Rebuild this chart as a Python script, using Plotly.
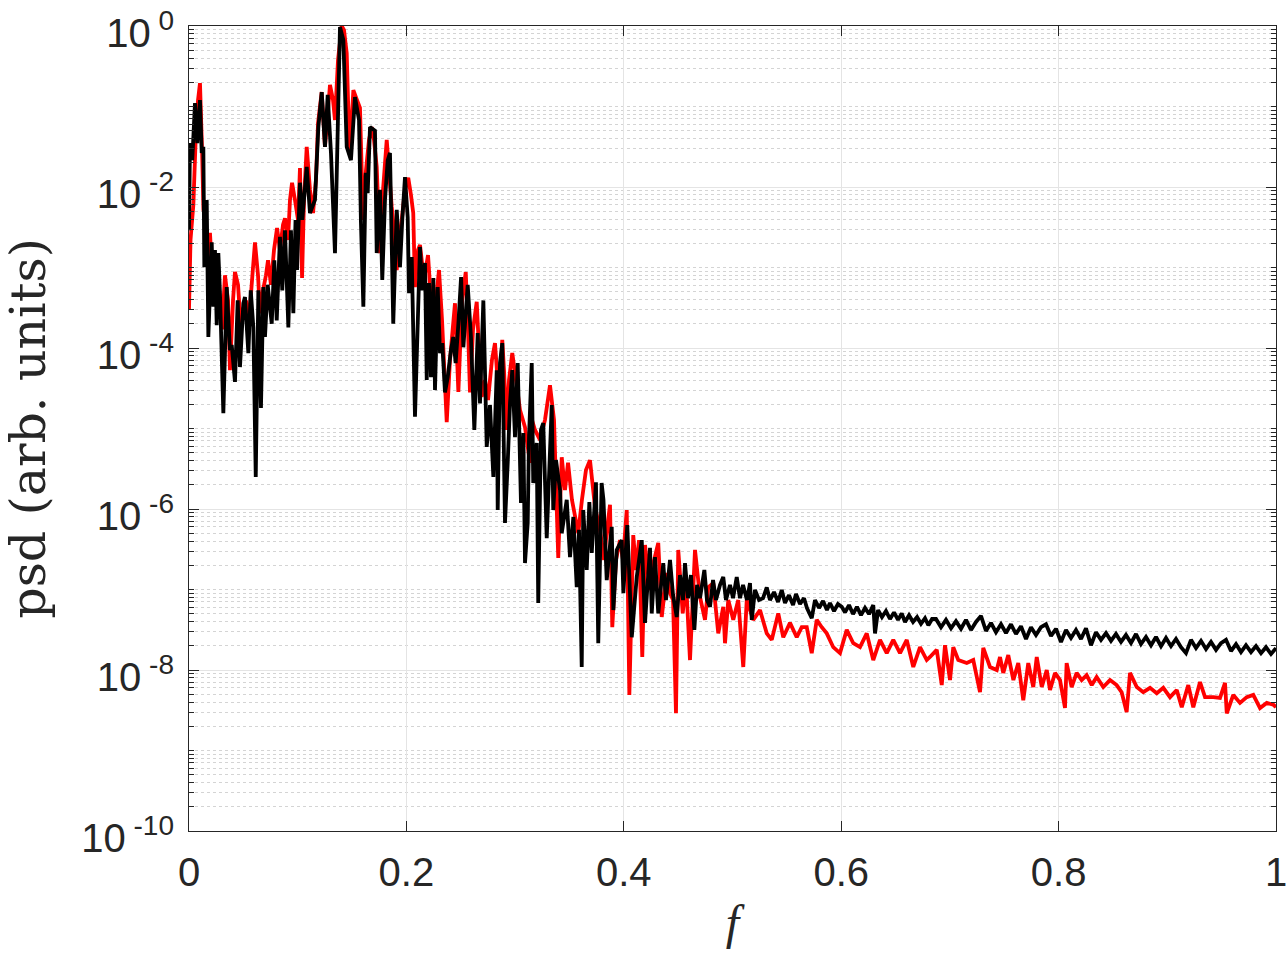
import plotly.graph_objects as go

# ---- data (f, psd) ----
f_red = [0.0000, 0.0014, 0.0040, 0.0064, 0.0083, 0.0101, 0.0120, 0.0133, 0.0147, 0.0175,
         0.0193, 0.0221, 0.0248, 0.0276, 0.0304, 0.0331, 0.0359, 0.0377, 0.0405, 0.0423,
         0.0451, 0.0478, 0.0497, 0.0524, 0.0552, 0.0580, 0.0607, 0.0635, 0.0653, 0.0681,
         0.0708, 0.0727, 0.0754, 0.0782, 0.0810, 0.0837, 0.0865, 0.0883, 0.0911, 0.0929,
         0.0948, 0.0975, 0.1003, 0.1021, 0.1040, 0.1058, 0.1083, 0.1113, 0.1141, 0.1168,
         0.1187, 0.1221, 0.1251, 0.1279, 0.1297, 0.1325, 0.1343, 0.1371, 0.1405, 0.1426,
         0.1451, 0.1463, 0.1481, 0.1512, 0.1546, 0.1573, 0.1601, 0.1628, 0.1656, 0.1681,
         0.1702, 0.1727, 0.1757, 0.1785, 0.1819, 0.1840, 0.1865, 0.1886, 0.1911, 0.1932,
         0.1957, 0.1987, 0.2017, 0.2042, 0.2063, 0.2079, 0.2107, 0.2125, 0.2162, 0.2199,
         0.2226, 0.2245, 0.2272, 0.2300, 0.2328, 0.2371, 0.2401, 0.2447, 0.2478, 0.2512,
         0.2546, 0.2567, 0.2585, 0.2613, 0.2647, 0.2668, 0.2693, 0.2723, 0.2751, 0.2787,
         0.2815, 0.2852, 0.2882, 0.2898, 0.2923, 0.2944, 0.2974, 0.3008, 0.3045, 0.3091,
         0.3137, 0.3155, 0.3183, 0.3229, 0.3275, 0.3321, 0.3358, 0.3397, 0.3429, 0.3459,
         0.3487, 0.3523, 0.3581, 0.3615, 0.3652, 0.3689, 0.3735, 0.3781, 0.3818, 0.3845,
         0.3873, 0.3894, 0.3928, 0.3965, 0.3993, 0.4027, 0.4051, 0.4087, 0.4112, 0.4140,
         0.4170, 0.4195, 0.4241, 0.4272, 0.4317, 0.4349, 0.4395, 0.4425, 0.4453, 0.4480,
         0.4501, 0.4542, 0.4572, 0.4609, 0.4655, 0.4701, 0.4747, 0.4777, 0.4823, 0.4869,
         0.4915, 0.4931, 0.4961, 0.5007, 0.5053, 0.5099, 0.5131, 0.5191, 0.5253, 0.5315,
         0.5361, 0.5421, 0.5467, 0.5529, 0.5591, 0.5637, 0.5683, 0.5729, 0.5775, 0.5821,
         0.5867, 0.5927, 0.5989, 0.6051, 0.6111, 0.6173, 0.6235, 0.6295, 0.6357, 0.6419,
         0.6479, 0.6541, 0.6603, 0.6663, 0.6725, 0.6787, 0.6817, 0.6879, 0.6925, 0.6955,
         0.7001, 0.7031, 0.7077, 0.7155, 0.7215, 0.7277, 0.7307, 0.7369, 0.7431, 0.7461,
         0.7491, 0.7537, 0.7584, 0.7629, 0.7675, 0.7721, 0.7767, 0.7799, 0.7845, 0.7891,
         0.7921, 0.7967, 0.8013, 0.8059, 0.8074, 0.8120, 0.8166, 0.8212, 0.8258, 0.8305,
         0.8350, 0.8411, 0.8473, 0.8534, 0.8580, 0.8626, 0.8657, 0.8719, 0.8779, 0.8841,
         0.8903, 0.8963, 0.9025, 0.9087, 0.9133, 0.9193, 0.9239, 0.9301, 0.9347, 0.9423,
         0.9485, 0.9531, 0.9547, 0.9607, 0.9669, 0.9731, 0.9791, 0.9853, 0.9915, 0.9976,
         1.0000]
psd_red = [3.0e-4, 2.2e-3, 6.0e-3, 5.0e-2, 1.2e-1, 1.95e-1, 2.9e-2, 5.2e-3, 4.2e-3, 1.65e-3,
           2.7e-3, 5.2e-4, 1.23e-3, 3.9e-4, 1.7e-4, 8.0e-4, 3.9e-4, 5.3e-5, 3.9e-4, 8.8e-4,
           6.1e-4, 1.7e-4, 3.0e-4, 3.9e-4, 2.2e-4, 7.0e-4, 2.05e-3, 8.0e-4, 2.7e-4, 5.2e-4,
           8.0e-4, 1.23e-3, 6.1e-4, 1.65e-3, 3.1e-3, 1.65e-3, 3.4e-3, 4.1e-3, 2.2e-3, 6.9e-3,
           1.13e-2, 6.9e-3, 3.9e-3, 1.72e-2, 7.4e-4, 6.9e-3, 3.15e-2, 9.2e-3, 4.75e-3, 1.22e-2,
           6.2e-2, 1.51e-1, 3.15e-2, 9.0e-2, 1.85e-1, 1.2e-1, 6.8e-2, 3.8e-1, 1.0, 8.9e-1,
           4.6e-1, 1.2e-1, 2.65e-2, 1.6e-1, 1.2e-1, 9.6e-2, 3.9e-3, 1.6e-2, 3.85e-2, 5.55e-2,
           3.85e-2, 1.78e-2, 1.51e-3, 9.2e-3, 3.85e-2, 1.6e-2, 5.65e-3, 2.9e-3, 9.3e-4, 2.2e-3,
           3.9e-3, 9.2e-3, 1.3e-2, 7.95e-3, 4.75e-3, 5.7e-4, 1.65e-3, 1.9e-3, 7.0e-4, 1.43e-3,
           3.9e-4, 1.02e-4, 3.9e-4, 9.3e-4, 2.2e-4, 1.2e-5, 7.1e-5, 3.6e-4, 2.84e-5, 3.9e-4,
           8.8e-4, 1.7e-4, 2.8e-5, 1.7e-4, 3.75e-4, 9.4e-5, 2.47e-5, 4.0e-5, 2.26e-5, 7.1e-5,
           1.15e-4, 2.26e-5, 1.26e-4, 5.3e-5, 9.6e-6, 4.0e-5, 8.65e-5, 4.0e-5, 1.7e-5, 1.04e-5,
           3.75e-6, 1.28e-5, 9.6e-6, 7.2e-6, 1.28e-5, 3.45e-5, 1.28e-5, 2.47e-7, 4.4e-6, 1.72e-6,
           3.75e-6, 1.3e-6, 5.0e-7, 1.3e-6, 3.05e-6, 4.05e-6, 1.06e-6, 5.5e-7, 2.33e-7, 5.5e-7,
           1.13e-6, 3.4e-8, 2.33e-7, 4.1e-7, 2.33e-7, 9.7e-7, 4.9e-9, 4.75e-7, 1.75e-7, 4.1e-7,
           1.45e-8, 3.57e-7, 9.85e-8, 2.13e-7, 3.8e-7, 4.55e-8, 1.6e-7, 9.0e-8, 7.4e-8, 2.9e-9,
           3.1e-7, 5.05e-8, 1.31e-7, 1.33e-8, 3.1e-7, 8.1e-8, 4.2e-8, 1.07e-7, 1.2e-7, 2.85e-8,
           6.1e-8, 2.15e-8, 7.4e-8, 4.2e-8, 7.4e-8, 1.09e-8, 7.4e-8, 4.2e-8, 5.55e-8, 2.85e-8,
           2.37e-8, 5.05e-8, 2.55e-8, 3.85e-8, 2.55e-8, 3.4e-8, 3.4e-8, 1.62e-8, 4.2e-8, 3.4e-8,
           2.85e-8, 1.92e-8, 1.62e-8, 3.15e-8, 2.15e-8, 1.92e-8, 2.85e-8, 1.33e-8, 2.37e-8, 1.62e-8,
           2.37e-8, 1.62e-8, 2.37e-8, 1.09e-8, 1.92e-8, 1.33e-8, 1.45e-8, 1.78e-8, 6.5e-9, 2.03e-8,
           7.5e-9, 1.92e-8, 1.33e-8, 1.22e-8, 1.33e-8, 5.3e-9, 1.88e-8, 1.09e-8, 1.0e-8, 1.45e-8,
           9.2e-9, 1.53e-8, 7.5e-9, 1.22e-8, 4.2e-9, 1.22e-8, 6.15e-9, 1.45e-8, 6.15e-9, 1.0e-8,
           5.65e-9, 9.2e-9, 7.5e-9, 3.37e-9, 1.22e-8, 6.15e-9, 9.2e-9, 7.5e-9, 8.65e-9, 6.5e-9,
           8.2e-9, 6.15e-9, 7.5e-9, 6.5e-9, 5.3e-9, 3.0e-9, 9.2e-9, 6.15e-9, 5.3e-9, 6.0e-9,
           5.15e-9, 6.0e-9, 4.6e-9, 5.65e-9, 3.45e-9, 6.5e-9, 3.45e-9, 7.1e-9, 4.6e-9, 4.6e-9,
           4.5e-9, 6.9e-9, 2.9e-9, 4.9e-9, 3.9e-9, 4.6e-9, 4.9e-9, 3.37e-9, 3.9e-9, 3.7e-9,
           3.45e-9]

f_black = [0.0000, 0.0009, 0.0030, 0.0055, 0.0076, 0.0101, 0.0117, 0.0132, 0.0141, 0.0163,
           0.0178, 0.0209, 0.0224, 0.0239, 0.0255, 0.0270, 0.0285, 0.0316, 0.0347, 0.0377,
           0.0393, 0.0423, 0.0448, 0.0469, 0.0500, 0.0515, 0.0546, 0.0568, 0.0592, 0.0614,
           0.0638, 0.0662, 0.0684, 0.0699, 0.0724, 0.0761, 0.0785, 0.0807, 0.0837, 0.0858,
           0.0883, 0.0914, 0.0938, 0.0960, 0.0980, 0.0994, 0.1021, 0.1042, 0.1083, 0.1113,
           0.1159, 0.1190, 0.1221, 0.1251, 0.1276, 0.1306, 0.1343, 0.1368, 0.1389, 0.1420,
           0.1451, 0.1490, 0.1527, 0.1564, 0.1582, 0.1604, 0.1626, 0.1644, 0.1665, 0.1711,
           0.1727, 0.1757, 0.1778, 0.1803, 0.1828, 0.1849, 0.1879, 0.1911, 0.1941, 0.1962,
           0.1987, 0.2012, 0.2024, 0.2049, 0.2079, 0.2125, 0.2146, 0.2171, 0.2187, 0.2208,
           0.2226, 0.2248, 0.2263, 0.2288, 0.2309, 0.2330, 0.2355, 0.2380, 0.2410, 0.2431,
           0.2453, 0.2478, 0.2503, 0.2524, 0.2564, 0.2594, 0.2625, 0.2656, 0.2677, 0.2708,
           0.2739, 0.2769, 0.2800, 0.2831, 0.2840, 0.2861, 0.2882, 0.2907, 0.2932, 0.2953,
           0.2974, 0.2999, 0.3024, 0.3054, 0.3076, 0.3091, 0.3116, 0.3128, 0.3153, 0.3167,
           0.3199, 0.3213, 0.3238, 0.3259, 0.3291, 0.3337, 0.3351, 0.3376, 0.3413, 0.3429,
           0.3475, 0.3505, 0.3536, 0.3567, 0.3588, 0.3613, 0.3627, 0.3659, 0.3683, 0.3705,
           0.3744, 0.3765, 0.3796, 0.3813, 0.3843, 0.3889, 0.3904, 0.3935, 0.3981, 0.3996,
           0.4032, 0.4073, 0.4119, 0.4165, 0.4195, 0.4241, 0.4257, 0.4287, 0.4317, 0.4363,
           0.4388, 0.4425, 0.4453, 0.4487, 0.4517, 0.4545, 0.4563, 0.4591, 0.4618, 0.4649,
           0.4674, 0.4701, 0.4741, 0.4765, 0.4793, 0.4821, 0.4848, 0.4885, 0.4915, 0.4940,
           0.4977, 0.5005, 0.5039, 0.5069, 0.5097, 0.5133, 0.5161, 0.5177, 0.5207, 0.5244,
           0.5281, 0.5315, 0.5345, 0.5382, 0.5419, 0.5453, 0.5483, 0.5520, 0.5557, 0.5584,
           0.5621, 0.5658, 0.5685, 0.5729, 0.5759, 0.5796, 0.5833, 0.5869, 0.5897, 0.5934,
           0.5970, 0.6005, 0.6035, 0.6072, 0.6109, 0.6145, 0.6182, 0.6219, 0.6256, 0.6295,
           0.6311, 0.6339, 0.6375, 0.6412, 0.6449, 0.6486, 0.6523, 0.6557, 0.6587, 0.6624,
           0.6661, 0.6698, 0.6734, 0.6771, 0.6802, 0.6836, 0.6872, 0.6918, 0.6964, 0.7010,
           0.7056, 0.7102, 0.7148, 0.7194, 0.7240, 0.7286, 0.7332, 0.7378, 0.7424, 0.7470,
           0.7516, 0.7562, 0.7608, 0.7654, 0.7700, 0.7746, 0.7792, 0.7838, 0.7884, 0.7930,
           0.7976, 0.8022, 0.8068, 0.8114, 0.8160, 0.8206, 0.8252, 0.8298, 0.8344, 0.8390,
           0.8436, 0.8482, 0.8528, 0.8574, 0.8620, 0.8666, 0.8712, 0.8758, 0.8804, 0.8850,
           0.8896, 0.8942, 0.8988, 0.9034, 0.9080, 0.9126, 0.9172, 0.9218, 0.9264, 0.9310,
           0.9356, 0.9402, 0.9448, 0.9494, 0.9540, 0.9586, 0.9632, 0.9678, 0.9724, 0.9770,
           0.9816, 0.9862, 0.9908, 0.9954, 1.0000]
psd_black = [2.9e-3, 3.5e-2, 2.15e-2, 1.1e-1, 3.5e-2, 1.2e-1, 2.65e-2, 3.15e-2, 1.01e-3, 6.9e-3,
             1.37e-4, 2.05e-3, 3.25e-4, 1.65e-3, 1.92e-4, 1.51e-3, 4.8e-4, 1.55e-5, 5.7e-4, 9.4e-5,
             1.09e-4, 3.8e-5, 3.9e-4, 5.8e-5, 3.6e-4, 4.3e-4, 8.65e-5, 5.2e-4, 1.8e-4, 2.5e-6,
             5.2e-4, 1.8e-5, 5.7e-4, 1.37e-4, 6.1e-4, 2.0e-4, 1.23e-3, 2.2e-4, 2.4e-3, 5.2e-4,
             2.9e-3, 1.8e-4, 2.9e-3, 2.7e-4, 3.9e-3, 9.3e-4, 1.13e-2, 3.9e-3, 1.78e-2, 4.75e-3,
             6.9e-3, 5.55e-2, 1.51e-1, 3.15e-2, 1.4e-1, 2.65e-2, 1.51e-3, 5.0e-2, 9.7e-1, 6.7e-1,
             3.15e-2, 2.15e-2, 1.31e-1, 6.8e-2, 3.57e-3, 3.25e-4, 1.5e-2, 8.4e-3, 5.55e-2, 5.0e-2,
             1.51e-3, 9.2e-3, 7.0e-4, 6.9e-3, 2.15e-2, 2.65e-2, 2.0e-4, 5.2e-3, 1.01e-3, 3.9e-3,
             1.33e-2, 4.2e-3, 4.8e-4, 1.35e-3, 1.4e-5, 1.8e-3, 5.2e-4, 1.14e-3, 4.0e-5, 6.4e-4,
             4.35e-5, 7.4e-4, 3.0e-5, 5.7e-4, 8.65e-5, 1.15e-4, 2.8e-5, 4.35e-5, 9.4e-5, 1.37e-4,
             6.5e-5, 2.0e-4, 7.6e-4, 1.02e-4, 6.1e-4, 1.37e-4, 9.6e-6, 1.53e-4, 2.05e-5, 3.9e-4,
             5.9e-6, 1.95e-5, 2.5e-6, 5.3e-5, 9.7e-7, 6.5e-5, 1.15e-4, 6.7e-7, 3.75e-6, 2.05e-5,
             5.3e-5, 7.8e-6, 6.5e-5, 1.19e-6, 8.8e-6, 2.13e-7, 6.7e-7, 7.8e-6, 6.5e-5, 2.1e-6,
             6.6e-6, 6.8e-8, 9.6e-6, 1.17e-5, 4.35e-7, 1.95e-5, 9.7e-7, 4.05e-6, 1.72e-6, 5.0e-7,
             1.3e-6, 2.53e-7, 7.95e-7, 1.07e-7, 5.5e-7, 1.09e-8, 9.7e-7, 1.75e-7, 1.22e-6, 2.84e-7,
             2.15e-6, 2.15e-8, 2.1e-6, 1.3e-6, 1.31e-7, 6.0e-7, 5.55e-8, 3.1e-7, 4.1e-7, 9.0e-8,
             6.3e-7, 2.55e-8, 1.43e-7, 4.1e-7, 3.85e-8, 3.3e-7, 5.05e-8, 2.53e-7, 5.05e-8, 2.13e-7,
             7.4e-8, 2.33e-7, 8.5e-8, 4.55e-8, 1.51e-7, 7.4e-8, 2.13e-7, 7.8e-8, 1.51e-7, 3.15e-8,
             1.14e-7, 7.8e-8, 1.75e-7, 7.4e-8, 6.1e-8, 1.31e-7, 7.4e-8, 1.14e-7, 1.43e-7, 7.4e-8,
             1.14e-7, 7.8e-8, 1.43e-7, 7.8e-8, 1.14e-7, 7.4e-8, 1.2e-7, 4.2e-8, 9.85e-8, 7.4e-8,
             7.8e-8, 1.06e-7, 7.4e-8, 9.3e-8, 7.0e-8, 9.85e-8, 6.8e-8, 8.5e-8, 6.4e-8, 8.8e-8,
             6.6e-8, 7.8e-8, 5.9e-8, 4.4e-8, 7.4e-8, 5.9e-8, 7.2e-8, 5.55e-8, 6.8e-8, 5.4e-8,
             6.6e-8, 6.1e-8, 5.2e-8, 6.4e-8, 4.95e-8, 6.1e-8, 4.8e-8, 5.9e-8, 4.95e-8, 6.4e-8,
             2.85e-8, 5.55e-8, 4.55e-8, 5.4e-8, 4.3e-8, 5.2e-8, 4.2e-8, 5.05e-8, 3.95e-8, 4.8e-8,
             3.95e-8, 4.55e-8, 3.75e-8, 4.4e-8, 3.6e-8, 4.3e-8, 4.3e-8, 3.4e-8, 4.2e-8, 3.3e-8,
             4.05e-8, 3.25e-8, 4.2e-8, 3.15e-8, 3.95e-8, 4.7e-8, 3.05e-8, 3.85e-8, 2.95e-8, 3.7e-8,
             2.88e-8, 3.7e-8, 2.8e-8, 3.5e-8, 2.43e-8, 3.4e-8, 2.72e-8, 3.4e-8, 3.7e-8, 2.65e-8,
             3.25e-8, 2.23e-8, 3.15e-8, 2.5e-8, 3.15e-8, 2.43e-8, 3.3e-8, 2.03e-8, 2.95e-8, 2.37e-8,
             2.88e-8, 2.3e-8, 2.8e-8, 2.23e-8, 2.72e-8, 2.16e-8, 2.8e-8, 2.1e-8, 2.57e-8, 2.03e-8,
             2.57e-8, 1.98e-8, 2.5e-8, 1.98e-8, 2.43e-8, 1.92e-8, 1.62e-8, 2.37e-8, 1.87e-8, 2.3e-8,
             1.82e-8, 2.23e-8, 1.78e-8, 2.16e-8, 2.37e-8, 1.72e-8, 2.1e-8, 1.67e-8, 2.03e-8, 1.67e-8,
             1.98e-8, 1.62e-8, 1.92e-8, 1.58e-8, 1.87e-8]

x_tick_vals = [0, 0.2, 0.4, 0.6, 0.8, 1]
x_tick_text = ["0", "0.2", "0.4", "0.6", "0.8", "1"]
y_tick_vals = [1e0, 1e-2, 1e-4, 1e-6, 1e-8, 1e-10]
y_tick_text = ["10<sup> 0</sup>", "10<sup> -2</sup>", "10<sup> -4</sup>",
               "10<sup> -6</sup>", "10<sup> -8</sup>", "10<sup> -10</sup>"]
minor_mantissas = [1, 2, 3, 4, 5, 6, 7, 8, 9]
decades = list(range(-10, 0))

# ---- styling ----
axis_color = "#262626"
tick_font = dict(family="Liberation Sans, Arial, sans-serif", size=40, color=axis_color)
minor_y = [m * 10.0 ** k for k in decades for m in minor_mantissas
           if not (m == 1 and k % 2 == 0)]

fig = go.Figure()
fig.add_trace(go.Scatter(x=f_red, y=psd_red, mode="lines",
                         line=dict(color="#ff0000", width=3.8, simplify=False),
                         showlegend=False, hoverinfo="skip"))
fig.add_trace(go.Scatter(x=f_black, y=psd_black, mode="lines",
                         line=dict(color="#000000", width=3.8, simplify=False),
                         showlegend=False, hoverinfo="skip"))

fig.update_layout(
    width=1288, height=955,
    margin=dict(l=189, r=12, t=26, b=124),
    paper_bgcolor="white", plot_bgcolor="white",
    showlegend=False,
    xaxis=dict(
        range=[0, 1], tickmode="array", tickvals=x_tick_vals, ticktext=x_tick_text,
        ticks="inside", ticklen=10, tickwidth=1, tickcolor=axis_color,
        showline=True, linecolor=axis_color, linewidth=1, mirror="ticks",
        showgrid=True, gridcolor="#e4e4e4", gridwidth=1, zeroline=False,
        tickfont=tick_font, ticklabelstandoff=6, automargin=False,
        ticklabeloverflow="allow",
        title=dict(text="<i>f</i>", standoff=12,
                   font=dict(family="Liberation Serif, serif", size=48, color=axis_color)),
    ),
    yaxis=dict(
        type="log", range=[-10, 0], tickmode="array", tickvals=y_tick_vals, ticktext=y_tick_text,
        ticks="inside", ticklen=10, tickwidth=1, tickcolor=axis_color,
        showline=True, linecolor=axis_color, linewidth=1, mirror="ticks",
        showgrid=True, gridcolor="#e4e4e4", gridwidth=1, zeroline=False,
        tickfont=tick_font, ticklabelstandoff=6, ticklabelshift=7, automargin=False,
        ticklabeloverflow="allow",
        minor=dict(tickmode="array", tickvals=minor_y, ticks="inside", ticklen=5,
                   tickcolor=axis_color, showgrid=True, gridcolor="#d4d4d4",
                   griddash="dot", gridwidth=1),
        title=dict(text="psd (arb. units)", standoff=26,
                   font=dict(family="DejaVu Serif, serif", size=49, color=axis_color)),
    ),
)

fig.write_html("out.html")
